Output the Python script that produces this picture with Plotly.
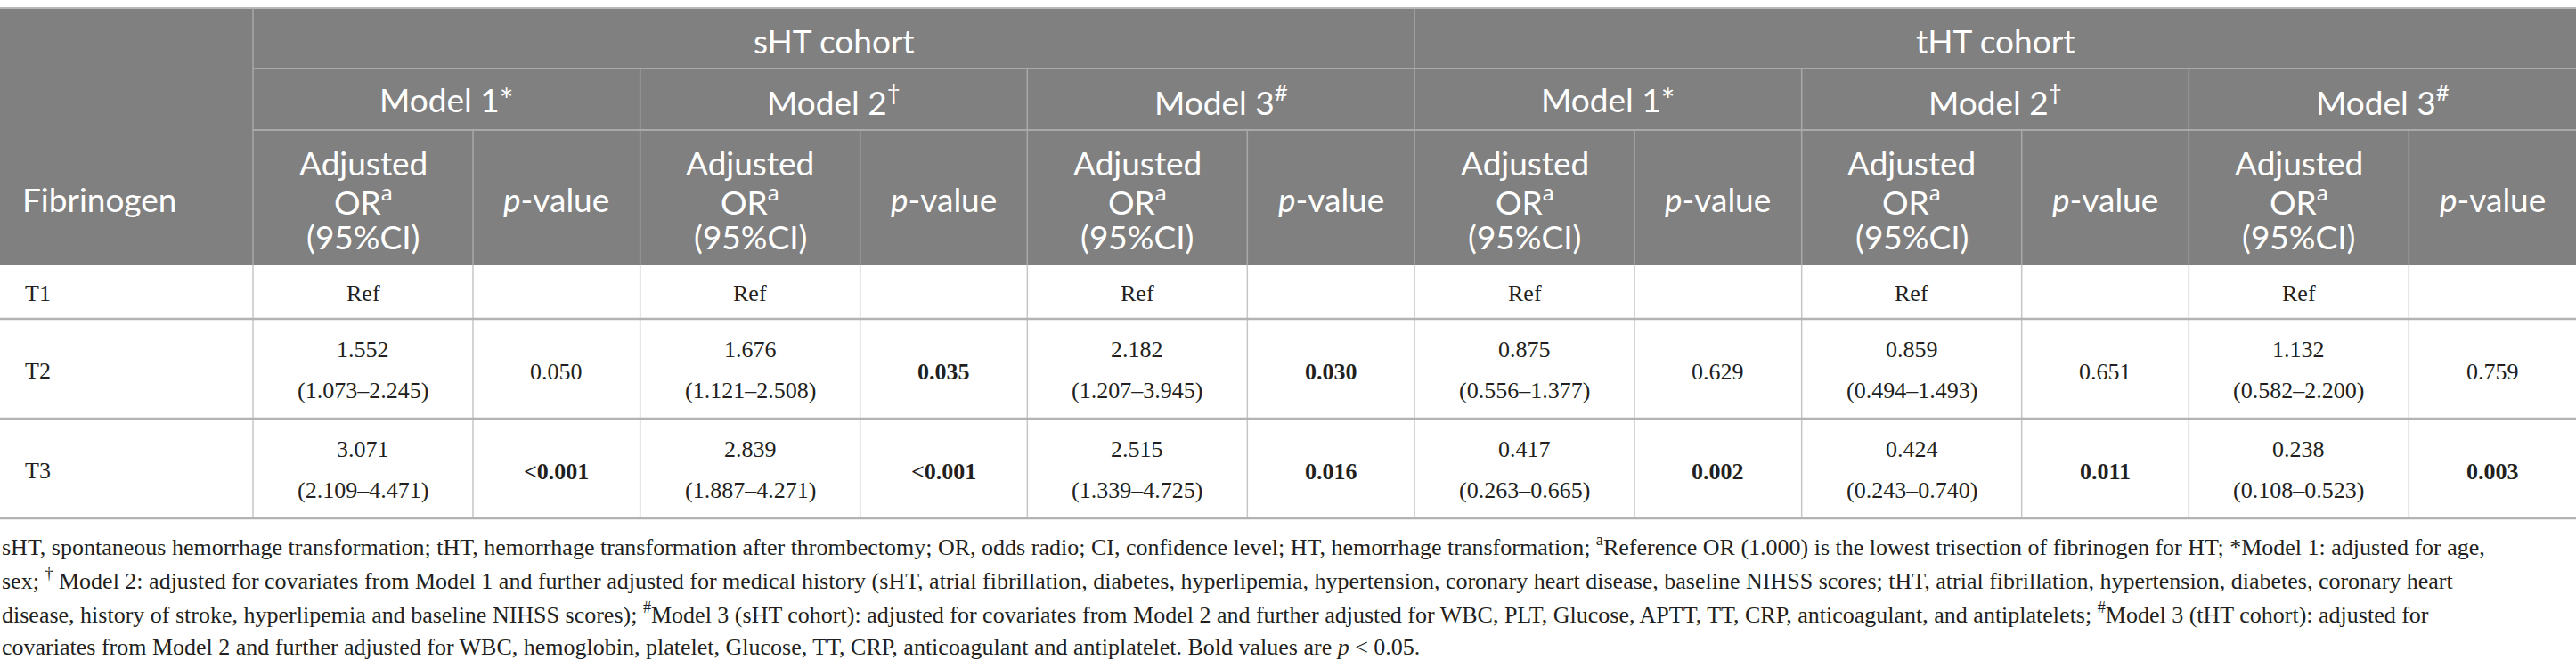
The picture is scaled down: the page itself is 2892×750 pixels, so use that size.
import plotly.graph_objects as go

# données du tableau
cohorts = ["sHT cohort", "tHT cohort"]
models = ["Model 1*", "Model 2<sup>†</sup>", "Model 3<sup>#</sup>"]
sub_or = ["Adjusted", "OR<sup>a</sup>", "(95%CI)"]
sub_p = "<i>p</i>-value"
row_title = "Fibrinogen"
categories = ["T1", "T2", "T3"]

# colonnes : sHT M1, M2, M3, tHT M1, M2, M3
or_t2 = ["1.552", "1.676", "2.182", "0.875", "0.859", "1.132"]
ci_t2 = ["(1.073–2.245)", "(1.121–2.508)", "(1.207–3.945)", "(0.556–1.377)", "(0.494–1.493)", "(0.582–2.200)"]
p_t2 = ["0.050", "0.035", "0.030", "0.629", "0.651", "0.759"]
or_t3 = ["3.071", "2.839", "2.515", "0.417", "0.424", "0.238"]
ci_t3 = ["(2.109–4.471)", "(1.887–4.271)", "(1.339–4.725)", "(0.263–0.665)", "(0.243–0.740)", "(0.108–0.523)"]
p_t3 = ["<0.001", "<0.001", "0.016", "0.002", "0.011", "0.003"]

notes = [
    "sHT, spontaneous hemorrhage transformation; tHT, hemorrhage transformation after thrombectomy; OR, odds radio; CI, confidence level; HT, hemorrhage transformation; "
    "<sup>a</sup>Reference OR (1.000) is the lowest trisection of fibrinogen for HT; *Model 1: adjusted for age,",
    "sex; <sup>†</sup> Model 2: adjusted for covariates from Model 1 and further adjusted for medical history (sHT, atrial fibrillation, diabetes, hyperlipemia, hypertension, "
    "coronary heart disease, baseline NIHSS scores; tHT, atrial fibrillation, hypertension, diabetes, coronary heart",
    "disease, history of stroke, hyperlipemia and baseline NIHSS scores); <sup>#</sup>Model 3 (sHT cohort): adjusted for covariates from Model 2 and further adjusted for WBC, PLT, "
    "Glucose, APTT, TT, CRP, anticoagulant, and antiplatelets; <sup>#</sup>Model 3 (tHT cohort): adjusted for",
    "covariates from Model 2 and further adjusted for WBC, hemoglobin, platelet, Glucose, TT, CRP, anticoagulant and antiplatelet. Bold values are <i>p</i> &lt; 0.05.",
]

W, H = 2892, 750
HEAD_BG = "#808080"
HEAD_LINE = "#a9a9a9"
BODY_LINE = "#c6c6c6"
ROW_LINE = "#b3b3b3"
TXT = "#231f20"
SANS = "Lato"
SERIF = "Liberation Serif"

# géométrie
first_w = 284
model_w = (W - first_w) / 6
or_w = 247
x_models = [first_w + i * model_w for i in range(7)]
y_top, y_coh, y_mod, y_head = 9, 77, 146, 297
y_rows = [297, 358, 470, 582]

fig = go.Figure()
shapes = []
ann = []


def line(x0, y0, x1, y1, color, width=1.5):
    shapes.append(dict(type="line", x0=x0, y0=y0, x1=x1, y1=y1, xref="x", yref="y",
                       line=dict(color=color, width=width), layer="above"))


def text(x, y, s, size, family, color, xanchor="center"):
    ann.append(dict(x=x, y=y, xref="x", yref="y", text=s, showarrow=False,
                    xanchor=xanchor, yanchor="middle",
                    font=dict(size=size, family=family, color=color)))


# fond de l'en-tête
shapes.append(dict(type="rect", x0=0, y0=y_top, x1=W, y1=y_head, xref="x", yref="y",
                   fillcolor=HEAD_BG, line=dict(width=0), layer="below"))

# lignes de l'en-tête
line(0, y_top, W, y_top, "#b8b8b8", 2)
line(first_w, y_coh, W, y_coh, HEAD_LINE, 2)
line(first_w, y_mod, W, y_mod, HEAD_LINE, 2)
line(first_w, y_top, first_w, y_head, HEAD_LINE)
line(x_models[3], y_top, x_models[3], y_head, HEAD_LINE)
for i in range(1, 6):
    if i != 3:
        line(x_models[i], y_coh, x_models[i], y_head, HEAD_LINE)
for i in range(6):
    line(x_models[i] + or_w, y_mod, x_models[i] + or_w, y_head, HEAD_LINE)

# lignes du corps
for xv in [first_w] + [x_models[i] for i in range(1, 6)] + [x_models[i] + or_w for i in range(6)]:
    line(xv, y_rows[0], xv, y_rows[-1], BODY_LINE)
line(0, y_rows[1], W, y_rows[1], ROW_LINE, 2.5)
line(0, y_rows[2], W, y_rows[2], ROW_LINE, 2.5)
line(0, y_rows[3], W, y_rows[3], ROW_LINE, 2.5)

# textes de l'en-tête
HS = 37
for k, c in enumerate(cohorts):
    text((x_models[3 * k] + x_models[3 * k + 3]) / 2, (y_top + y_coh) / 2 + 2, c, HS, SANS, "white")
for i in range(6):
    text((x_models[i] + x_models[i + 1]) / 2, (y_coh + y_mod) / 2, models[i % 3], HS, SANS, "white")
    cx = x_models[i] + or_w / 2
    for j, s in enumerate(sub_or):
        text(cx, 182 + j * 41.5, s, HS, SANS, "white")
    text((x_models[i] + or_w + x_models[i + 1]) / 2, 223, sub_p, HS, SANS, "white")
text(23, 223, row_title, HS, SANS, "white", xanchor="left")

# corps du tableau
BS = 26


def pval(s):
    v = float(s.replace("<", ""))
    return "<b>" + s.replace("<", "&lt;") + "</b>" if v < 0.05 else s


for r, cat in enumerate(categories):
    yc = (y_rows[r] + y_rows[r + 1]) / 2
    text(26, yc + 2, cat, BS, SERIF, TXT, xanchor="left")
    for i in range(6):
        cx = x_models[i] + or_w / 2
        px = (x_models[i] + or_w + x_models[i + 1]) / 2
        if r == 0:
            text(cx, yc + 2, "Ref", BS, SERIF, TXT)
        else:
            o, ci, p = (or_t2, ci_t2, p_t2) if r == 1 else (or_t3, ci_t3, p_t3)
            text(cx, yc - 22, o[i], BS, SERIF, TXT)
            text(cx, yc + 24, ci[i], BS, SERIF, TXT)
            text(px, yc + 3, pval(p[i]), BS, SERIF, TXT)

# notes de bas de tableau
for j, s in enumerate(notes):
    text(0, 612 + j * 38, s, 26, SERIF, TXT, xanchor="left")

fig.update_layout(
    width=W, height=H, autosize=False,
    margin=dict(l=0, r=0, t=0, b=0),
    paper_bgcolor="white", plot_bgcolor="white",
    xaxis=dict(range=[0, W], visible=False, fixedrange=True),
    yaxis=dict(range=[H, 0], visible=False, fixedrange=True),
    shapes=shapes, annotations=ann, showlegend=False,
)

fig.write_html("out.html", config={"displayModeBar": False},
               post_script="document.body.style.margin='0';document.body.style.overflow='hidden';")
